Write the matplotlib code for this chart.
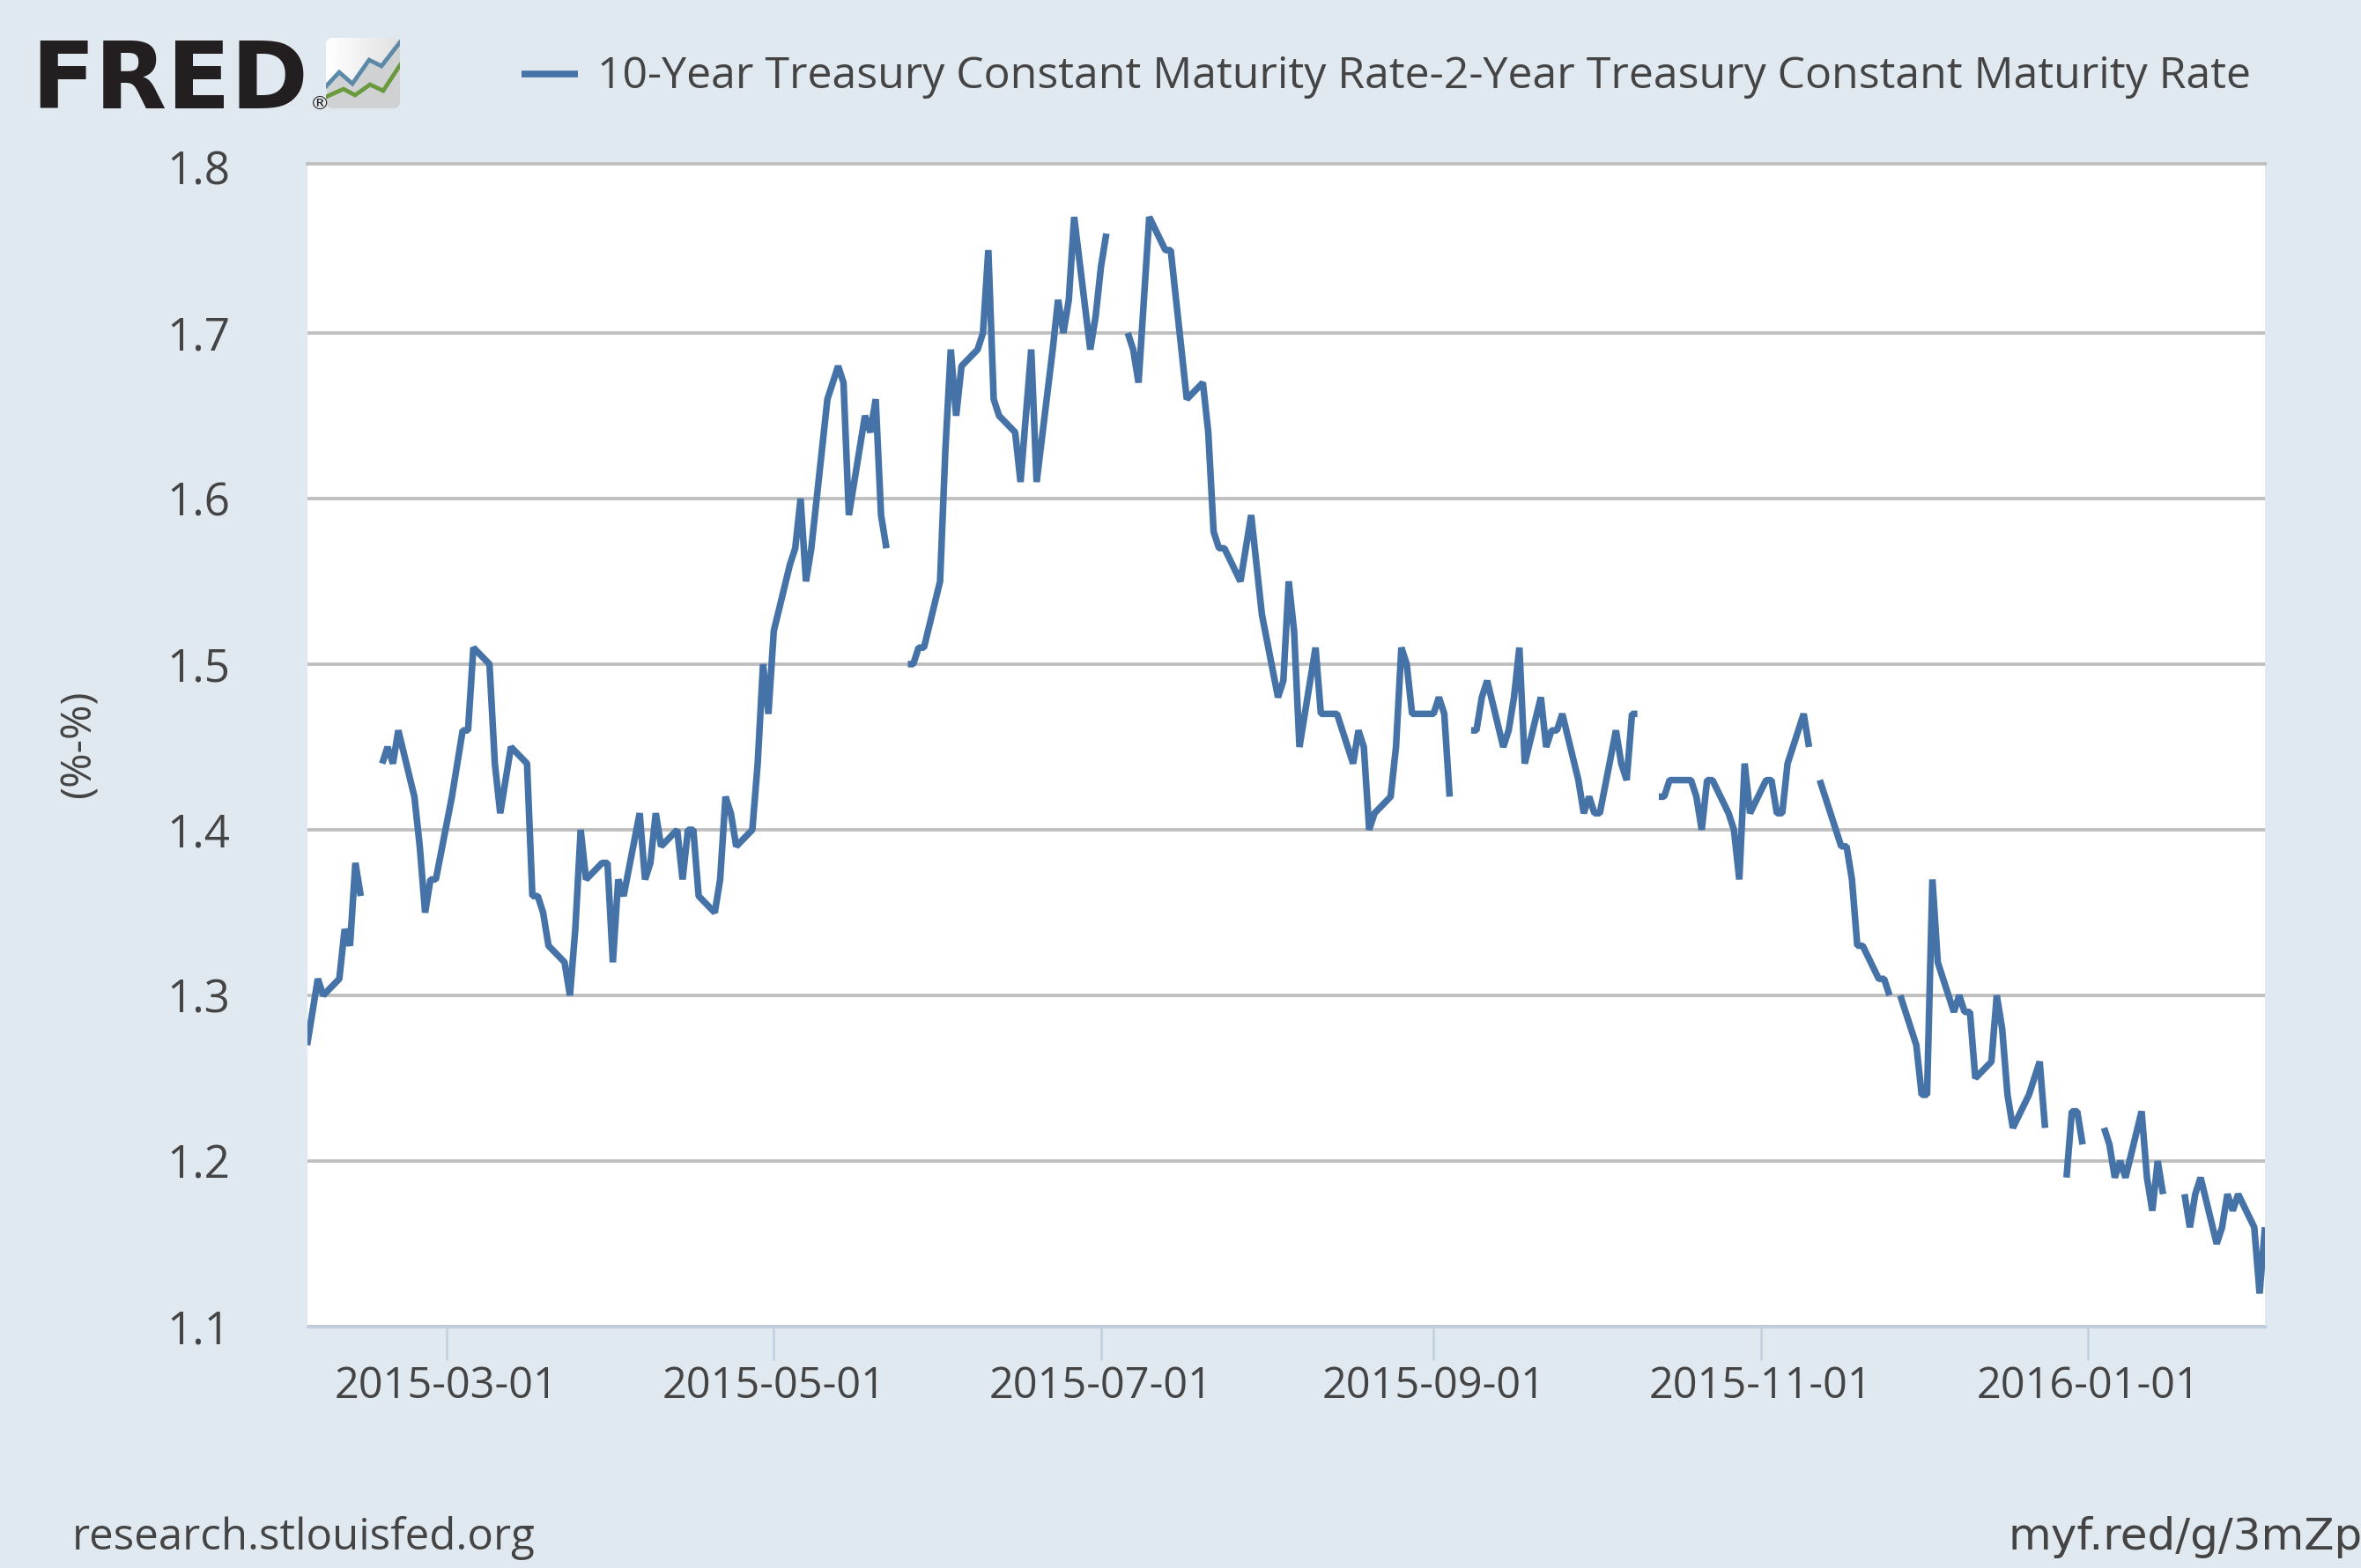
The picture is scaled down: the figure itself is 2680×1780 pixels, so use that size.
#!/usr/bin/env python3
# -*- coding: utf-8 -*-

import numpy as np
import pandas as pd
import matplotlib
matplotlib.use('Agg')
import matplotlib.pyplot as plt
from matplotlib.patches import FancyBboxPatch

nan = np.nan

#%% data, one list per month (business days, nan = holiday)
feb15 = [1.27, 1.29, 1.31, 1.30, 1.31, 1.34, 1.33, 1.38, 1.36, nan, 1.44, 1.45, 1.44, 1.46,
         1.42, 1.39, 1.35, 1.37, 1.37]
mar15 = [1.42, 1.44, 1.46, 1.46, 1.51, 1.50, 1.44, 1.41, 1.43, 1.45, 1.44, 1.36, 1.36, 1.35, 1.33,
         1.32, 1.30, 1.34, 1.40, 1.37, 1.38, 1.38]
apr15 = [1.32, 1.37, 1.36, 1.41, 1.37, 1.38, 1.41, 1.39, 1.40, 1.37, 1.40, 1.40, 1.36,
         1.35, 1.37, 1.42, 1.41, 1.39, 1.40, 1.44, 1.50, 1.47]
may15 = [1.52, 1.56, 1.57, 1.60, 1.55, 1.57, 1.66, 1.67, 1.68, 1.67, 1.59, 1.65, 1.64, 1.66, 1.59, 1.57,
         nan, 1.50, 1.50, 1.51, 1.51]
jun15 = [1.55, 1.63, 1.69, 1.65, 1.68, 1.69, 1.70, 1.75, 1.66, 1.65, 1.64, 1.61, 1.65, 1.69, 1.61,
         1.69, 1.72, 1.70, 1.72, 1.77, 1.69, 1.71]
jul15 = [1.74, 1.76, nan, 1.70, 1.69, 1.67, 1.72, 1.77, 1.75, 1.75, 1.72, 1.69, 1.66,
         1.67, 1.64, 1.58, 1.57, 1.57, 1.55, 1.57, 1.59, 1.56, 1.53]
aug15 = [1.48, 1.49, 1.55, 1.52, 1.45, 1.51, 1.47, 1.47, 1.47, 1.47, 1.44, 1.46, 1.45, 1.40, 1.41,
         1.42, 1.45, 1.51, 1.50, 1.47, 1.47]
sep15 = [1.47, 1.48, 1.47, 1.42, nan, 1.46, 1.46, 1.48, 1.49, 1.45, 1.46, 1.48, 1.51, 1.44,
         1.48, 1.45, 1.46, 1.46, 1.47, 1.43, 1.41, 1.42]
oct15 = [1.41, 1.41, 1.46, 1.44, 1.43, 1.47, 1.47, nan, 1.42, 1.42, 1.43, 1.43,
         1.43, 1.42, 1.40, 1.43, 1.43, 1.41, 1.40, 1.37, 1.44, 1.41]
nov15 = [1.43, 1.43, 1.41, 1.41, 1.44, 1.47, 1.45, nan, 1.43, 1.42, 1.39, 1.39, 1.37, 1.33, 1.33,
         1.31, 1.31, 1.30, nan, 1.30, 1.27]
dec15 = [1.24, 1.24, 1.37, 1.32, 1.29, 1.30, 1.29, 1.29, 1.25, 1.26, 1.30, 1.28, 1.24, 1.22,
         1.24, 1.25, 1.26, 1.22, nan, 1.19, 1.23, 1.23, 1.21]
jan16 = [nan, 1.22, 1.21, 1.19, 1.20, 1.19, 1.23, 1.19, 1.17, 1.20, 1.18, nan, 1.18, 1.16, 1.18, 1.19,
         1.15, 1.16, 1.18, 1.17, 1.18]
feb16 = [1.16, 1.12, 1.16]

values = feb15 + mar15 + apr15 + may15 + jun15 + jul15 + aug15 + sep15 + oct15 + nov15 + dec15 + jan16 + feb16
dates = pd.bdate_range('2015-02-03', '2016-02-03')

x_ticks = ['2015-03-01', '2015-05-01', '2015-07-01', '2015-09-01', '2015-11-01', '2016-01-01']
y_ticks = [1.1, 1.2, 1.3, 1.4, 1.5, 1.6, 1.7, 1.8]
series_name = '10-Year Treasury Constant Maturity Rate-2-Year Treasury Constant Maturity Rate'

#%% figure
W, H = 2680, 1780
bg = '#e1e9f0'
txt = '#444444'
line_c = '#4572a7'
grid_c = '#c0c0c0'
plt.rcParams.update({'font.family': ['Open Sans', 'DejaVu Sans']})
plt.rcParams.update({'path.simplify': False})

fig = plt.figure(figsize=(W/200, H/200), dpi=200, facecolor=bg)
# the top edge of the plot sits a few pixels above the 1.8 position
ax = fig.add_axes([348.6/W, 1 - 1506/H, (2571 - 348.6)/W, (1506 - 186)/H])
ax.plot(dates, values, c=line_c, linewidth=2.7, solid_joinstyle='bevel', solid_capstyle='butt', zorder=3)
ax.set_xlim(pd.Timestamp('2015-02-03'), pd.Timestamp('2016-02-03'))
ax.set_ylim(1.1, 1.8021)
ax.set_yticks(y_ticks)
ax.set_yticklabels(['%.1f' % v for v in y_ticks], fontsize=18.4, color=txt)
ax.set_xticks(pd.to_datetime(x_ticks))
ax.set_xticklabels(x_ticks, fontsize=17.5, color=txt)
ax.grid(axis='y', color=grid_c, linewidth=1.4, zorder=1)
ax.yaxis.get_gridlines()[-1].set_visible(False)
ax.tick_params(axis='y', length=0, pad=31.4)
ax.tick_params(axis='x', length=13.5, width=0.9, color='#c0d0e0', pad=2)
for s in ['left', 'right']:
    ax.spines[s].set_visible(False)
ax.spines['top'].set_color(grid_c)
ax.spines['top'].set_linewidth(1.4)
ax.spines['bottom'].set_color('#c0d0e0')
ax.spines['bottom'].set_linewidth(1.2)

#%% text around the plot
def put(x, y, s, **kw):
    fig.text(x/W, 1 - y/H, s, color=kw.pop('color', txt), **kw)

put(89.5, 845, '(%-%)', fontsize=17.2, rotation=90, ha='center', va='center')
put(82, 1759, 'research.stlouisfed.org', fontsize=17.7, ha='left', va='baseline')
put(2280, 1759, 'myf.red/g/3mZp', fontsize=18, family='DejaVu Sans', ha='left', va='baseline')
put(678, 100, series_name, fontsize=18.0, ha='left', va='baseline')
fig.add_artist(plt.Line2D([592/W, 656/W], [1 - 84/H, 1 - 84/H], color=line_c, linewidth=2.75, solid_capstyle='butt'))

#%% logo
put(35, 123, 'FRED', fontsize=38.2, fontweight='bold', family='DejaVu Sans', ha='left', va='baseline', color='#231f20')
put(352, 124, '\u00ae', fontsize=8, family='DejaVu Sans', ha='left', va='baseline', color='#231f20')

icon = fig.add_axes([370/W, 1 - 123/H, 84/W, 80/H])
icon.set_xlim(0, 84)
icon.set_ylim(80, 0)
icon.axis('off')
grad = icon.imshow(np.linspace(1, 0.88, 64).reshape(1, -1), cmap='gray', vmin=0, vmax=1, extent=[0, 84, 80, 0], aspect='auto')
grad.set_clip_path(FancyBboxPatch((0, 0), 84, 80, boxstyle='round,pad=0,rounding_size=8', transform=icon.transData))
icon_x_blue = np.array([0, 15, 30, 49, 63, 84])
icon_y_blue = np.array([55, 39, 52, 25, 32, 5])
icon_x_green = np.array([0, 20, 33, 50, 65, 84])
icon_y_green = np.array([67, 58, 65, 53, 60, 31])
shade = icon.fill_between(icon_x_blue, icon_y_blue, 80, color='#cfd1d3', linewidth=0)
shade.set_clip_path(FancyBboxPatch((0, 0), 84, 80, boxstyle='round,pad=0,rounding_size=8', transform=icon.transData))
icon.plot(icon_x_blue, icon_y_blue, c='#5b8aa8', linewidth=1.7, solid_joinstyle='miter')
icon.plot(icon_x_green, icon_y_green, c='#6a9a3e', linewidth=1.7, solid_joinstyle='miter')

fig.savefig('out.png', dpi=200, facecolor=bg)
